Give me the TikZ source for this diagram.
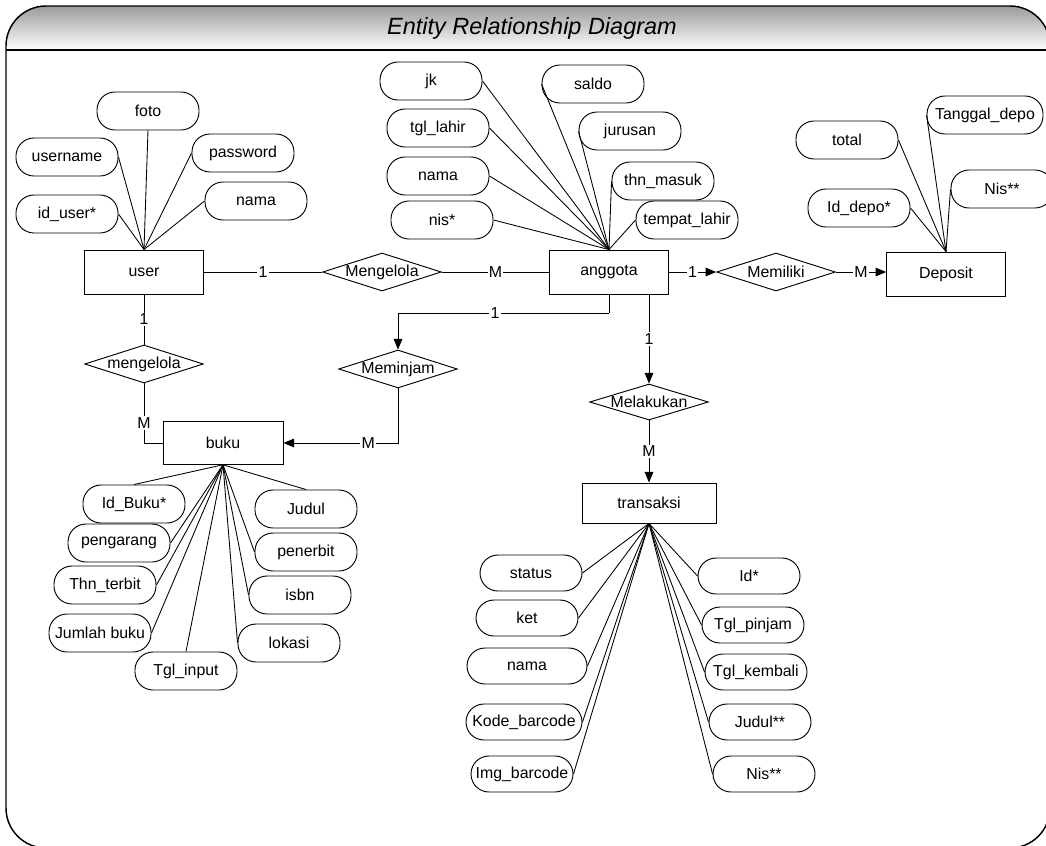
\documentclass[tikz,border=0pt]{standalone}
\usepackage{fontspec}
\setmainfont{Liberation Sans}
\usetikzlibrary{shapes.geometric,arrows.meta}
\definecolor{titlegray}{RGB}{155,155,155}
\begin{document}
\begin{tikzpicture}[x=0.75pt,y=-0.75pt,
  every node/.style={font=\fontsize{11.9}{13.5}\selectfont},
  ent/.style={draw, line width=0.7pt, fill=white, minimum width=89pt, minimum height=33pt, inner sep=0pt},
  attr/.style={draw, line width=0.7pt, fill=white, rounded corners=13.5pt, minimum width=76.5pt, minimum height=28.5pt, inner sep=0pt},
  rel/.style={draw, line width=0.7pt, fill=white, diamond, minimum width=89pt, minimum height=28.5pt, inner sep=0pt},
  conn/.style={line width=0.7pt},
  ln/.style={line width=0.65pt},
  card/.style={fill=white, inner sep=1pt},
  arr/.style={-{Triangle[length=8pt,width=6.5pt]}}
]
\useasboundingbox (0,0) rectangle (1046,846);
\clip (0,0) rectangle (1046,846);

% frame and title bar
\begin{scope}
  \clip[rounded corners=30pt] (6,6) rectangle (1050,848);
  \shade[top color=titlegray, bottom color=white] (0,6) rectangle (1050,50);
\end{scope}
\draw[line width=1.1pt, rounded corners=30pt] (6,6) rectangle (1050,848);
\draw[line width=1.1pt] (6,50) -- (1050,50);
\node[font=\fontsize{17.6}{19}\selectfont\itshape] (title) at (532,28) {Entity Relationship Diagram};

% ---------- user ----------
\node[ent] (user) at (144,272) {user};
\node[attr] (foto) at (148,111) {foto};
\node[attr] (username) at (67,157) {username};
\node[attr] (password) at (243,153) {password};
\node[attr] (iduser) at (67,214) {id\_user*};
\node[attr] (unama) at (256,201) {nama};

% ---------- anggota ----------
\node[ent] (anggota) at (609,272) {anggota};
\node[attr] (jk) at (431,81) {jk};
\node[attr] (tgllahir) at (438,128) {tgl\_lahir};
\node[attr] (anama) at (438,176) {nama};
\node[attr] (nis) at (442,220) {nis*};
\node[attr] (saldo) at (593,84) {saldo};
\node[attr] (jurusan) at (630,131) {jurusan};
\node[attr] (thnmasuk) at (663,181) {thn\_masuk};
\node[attr] (tempatlahir) at (687,220) {tempat\_lahir};

% ---------- deposit ----------
\node[ent] (deposit) at (946,274) {Deposit};
\node[attr] (total) at (847,140) {total};
\node[attr, minimum width=87pt] (tanggaldepo) at (985,115) {Tanggal\_depo};
\node[attr] (iddepo) at (859,208) {Id\_depo*};
\node[attr] (nisd) at (1002,189) {Nis**};

% ---------- relations ----------
\node[rel] (rmengelola) at (382,272) {\makebox[0pt]{Mengelola}};
\node[rel] (memiliki) at (776,272) {\makebox[0pt]{Memiliki}};
\node[rel] (mengelola) at (144,364) {\makebox[0pt]{mengelola}};
\node[rel] (meminjam) at (398,369) {\makebox[0pt]{Meminjam}};
\node[rel, minimum height=27pt] (melakukan) at (649,402) {\makebox[0pt]{Melakukan}};

% ---------- buku ----------
\node[ent, minimum width=90pt, minimum height=32pt] (buku) at (223,443) {buku};
\node[attr] (idbuku) at (134,504) {Id\_Buku*};
\node[attr] (pengarang) at (119,543) {pengarang};
\node[attr] (thnterbit) at (105,585) {Thn\_terbit};
\node[attr] (jumlahbuku) at (100,633) {Jumlah buku};
\node[attr] (tglinput) at (186,671) {Tgl\_input};
\node[attr] (judul) at (306,509) {Judul};
\node[attr] (penerbit) at (306,552) {penerbit};
\node[attr] (isbn) at (300,595) {isbn};
\node[attr] (lokasi) at (289,643) {lokasi};

% ---------- transaksi ----------
\node[ent, minimum width=100.5pt, minimum height=30pt] (transaksi) at (649,503) {transaksi};
\node[attr, minimum height=27pt] (status) at (531,573) {status};
\node[attr, minimum height=27pt] (ket) at (527,618) {ket};
\node[attr, minimum height=27pt, minimum width=90pt] (tnama) at (527,666) {nama};
\node[attr, minimum height=27pt, minimum width=87pt] (kode) at (524,722) {Kode\_barcode};
\node[attr, minimum height=27pt] (img) at (522,774) {Img\_barcode};
\node[attr, minimum height=27pt] (idt) at (749,576) {Id*};
\node[attr, minimum height=27pt] (tglpinjam) at (753,625) {Tgl\_pinjam};
\node[attr, minimum height=27pt] (tglkembali) at (756,672) {Tgl\_kembali};
\node[attr, minimum height=27pt] (judult) at (760,722) {Judul**};
\node[attr, minimum height=27pt] (nist) at (764,774) {Nis**};

% ---------- attribute lines ----------
\foreach \a/\s in {foto/south, username/east, password/west, iduser/east, unama/west}
  \draw[ln] (user.north) -- (\a.\s);
\foreach \a/\s in {jk/east, tgllahir/east, anama/east, nis/east, saldo/west, jurusan/west, thnmasuk/west, tempatlahir/west}
  \draw[ln] (anggota.north) -- (\a.\s);
\foreach \a/\s in {total/east, iddepo/east, tanggaldepo/west, nisd/west}
  \draw[ln] (deposit.north) -- (\a.\s);
\foreach \a/\s in {idbuku/north, pengarang/east, thnterbit/east, jumlahbuku/east, tglinput/north, judul/north, penerbit/west, isbn/west, lokasi/west}
  \draw[ln] (buku.south) -- (\a.\s);
\foreach \a/\s in {status/east, ket/east, tnama/east, kode/east, img/east, idt/west, tglpinjam/west, tglkembali/west, judult/west, nist/west}
  \draw[ln] (transaksi.south) -- (\a.\s);

% ---------- relationship connectors ----------
\draw[conn] (user.east) -- node[card]{1} (rmengelola.west);
\draw[conn] (rmengelola.east) -- node[card]{M} (anggota.west);
\draw[conn, arr] (anggota.east) -- node[card]{1} (memiliki.west);
\draw[conn, arr] (memiliki.east) -- node[card]{M} (memiliki.east -| deposit.west);
\draw[conn] (user.south) -- node[card]{1} (mengelola.north);
\draw[conn] (mengelola.south) |- node[card, pos=0.33]{M} (buku.west);
\draw[conn] (anggota.south) -- ++(0,19) coordinate (c1);
\draw[conn, arr] (c1) -| node[card, pos=0.27]{1} (meminjam.north);
\draw[conn, arr] (meminjam.south) |- node[card, pos=0.63]{M} (buku.east);
\draw[conn, arr] (anggota.south -| melakukan.north) -- node[card]{1} (melakukan.north);
\draw[conn, arr] (melakukan.south) -- node[card]{M} (transaksi.north);
\end{tikzpicture}
\end{document}
